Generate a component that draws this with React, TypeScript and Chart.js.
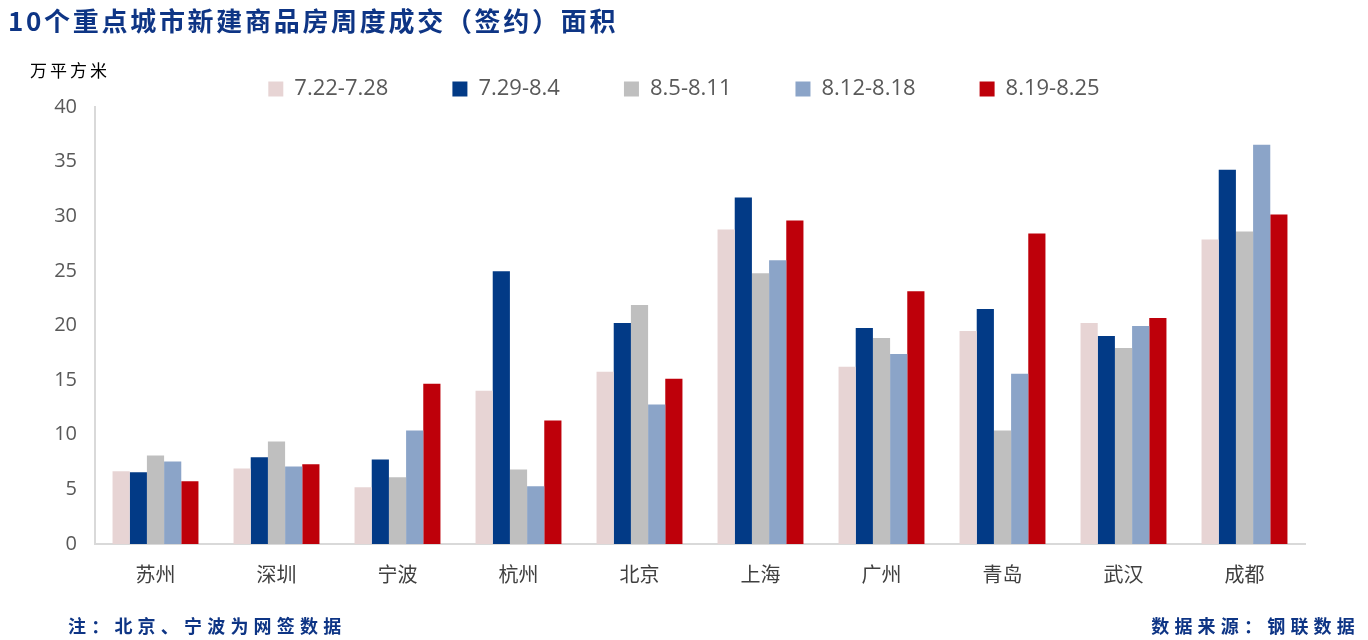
import React, { useEffect, useRef } from "react";
import { Chart, registerables } from "chart.js";

Chart.register(...registerables);

const cities = ["苏州", "深圳", "宁波", "杭州", "北京", "上海", "广州", "青岛", "武汉", "成都"];
const weekLabels = ["7.22-7.28", "7.29-8.4", "8.5-8.11", "8.12-8.18", "8.19-8.25"];
const week1 = [6.65, 6.92, 5.19, 14.03, 15.76, 28.79, 16.22, 19.5, 20.23, 27.88];
const week2 = [6.56, 7.93, 7.74, 24.97, 20.23, 31.71, 19.77, 21.5, 19.04, 34.26];
const week3 = [8.11, 9.39, 6.1, 6.83, 21.87, 24.78, 18.86, 10.39, 17.95, 28.61];
const week4 = [7.56, 7.1, 10.39, 5.28, 12.76, 25.97, 17.4, 15.58, 19.95, 36.54];
const week5 = [5.74, 7.29, 14.67, 11.3, 15.13, 29.61, 23.14, 28.43, 20.68, 30.16];
const seriesColors = ["#E7D4D4", "#023A86", "#BFBFBF", "#8BA4C8", "#BE000A"];
const yTicks = [0, 5, 10, 15, 20, 25, 30, 35, 40];

const titleText = "10个重点城市新建商品房周度成交（签约）面积";
const unitText = "万平方米";
const noteText = "注：北京、宁波为网签数据";
const sourceText = "数据来源：钢联数据";

const legendFix = {
  id: "legendFix",
  beforeLayout(chart: any) {
    const lg = chart.legend;
    if (lg && !lg.__patched) {
      const orig = lg.fit;
      lg.fit = function () {
        orig.call(this);
        this.height = 93;
      };
      lg.__patched = true;
    }
  },
  afterLayout(chart: any) {
    const lg = chart.legend;
    if (lg) {
      lg.left = 0;
      lg.right = chart.width;
      lg.width = chart.width;
    }
  },
};

export default function App() {
  const ref = useRef<HTMLCanvasElement | null>(null);
  useEffect(() => {
    if (!ref.current) return;
    const all = [week1, week2, week3, week4, week5];
    const chart = new Chart(ref.current, {
      type: "bar",
      data: {
        labels: cities,
        datasets: all.map((d, i) => ({
          label: weekLabels[i],
          data: d,
          backgroundColor: seriesColors[i],
          borderWidth: 0,
          categoryPercentage: 0.71,
          barPercentage: 1.0,
        })),
      },
      options: {
        animation: false,
        responsive: false,
        maintainAspectRatio: false,
        layout: { padding: { top: 14, right: 63, left: 0, bottom: 0 } },
        plugins: {
          tooltip: { enabled: false },
          legend: {
            display: true,
            position: "top",
            labels: {
              boxWidth: 15,
              boxHeight: 15,
              padding: 64,
              color: "#595959",
              font: { family: "'Open Sans', sans-serif", size: 22 },
            },
          },
        },
        scales: {
          x: {
            grid: { display: false, drawTicks: false },
            border: { display: true, color: "#D9D9D9", width: 2 },
            ticks: {
              color: "#404040",
              padding: 18,
              font: { family: "'Noto Sans CJK SC', sans-serif", size: 20 },
            },
            afterFit: (s: any) => {
              s.height = 96;
            },
          },
          y: {
            min: 0,
            max: 40,
            grid: { display: false, drawTicks: false },
            border: { display: true, color: "#D9D9D9", width: 2 },
            afterBuildTicks: (s: any) => {
              s.ticks = yTicks.map((v) => ({ value: v }));
            },
            ticks: {
              color: "#595959",
              padding: 18,
              font: { family: "'Open Sans', sans-serif", size: 20 },
            },
            afterFit: (s: any) => {
              s.width = 95;
            },
          },
        },
      },
      plugins: [legendFix],
    });
    return () => chart.destroy();
  }, []);

  return (
    <div style={{ position: "absolute", left: 0, top: 0, width: 1368, height: 640, background: "#fff", overflow: "hidden" }}>
      <canvas ref={ref} width={1368} height={640} style={{ position: "absolute", left: 0, top: 0, width: 1368, height: 640 }} />
      <div
        style={{
          position: "absolute",
          left: 8,
          top: 2,
          fontFamily: "'Noto Sans CJK SC', sans-serif",
          fontWeight: 700,
          fontSize: 26,
          letterSpacing: 2.7,
          color: "#0E3585",
          whiteSpace: "nowrap",
          lineHeight: "36px",
        }}
      >
        {titleText}
      </div>
      <div
        style={{
          position: "absolute",
          left: 30,
          top: 58,
          fontFamily: "'Noto Sans CJK SC', sans-serif",
          fontSize: 17,
          letterSpacing: 3,
          color: "#000",
          whiteSpace: "nowrap",
          lineHeight: "24px",
        }}
      >
        {unitText}
      </div>
      <div
        style={{
          position: "absolute",
          left: 68,
          top: 612,
          fontFamily: "'Noto Sans CJK SC', sans-serif",
          fontWeight: 700,
          fontSize: 18,
          letterSpacing: 5.2,
          color: "#0E3585",
          whiteSpace: "nowrap",
          lineHeight: "26px",
        }}
      >
        {noteText}
      </div>
      <div
        style={{
          position: "absolute",
          right: 8,
          top: 612,
          fontFamily: "'Noto Sans CJK SC', sans-serif",
          fontWeight: 700,
          fontSize: 18,
          letterSpacing: 5.2,
          color: "#0E3585",
          whiteSpace: "nowrap",
          lineHeight: "26px",
        }}
      >
        {sourceText}
      </div>
    </div>
  );
}
